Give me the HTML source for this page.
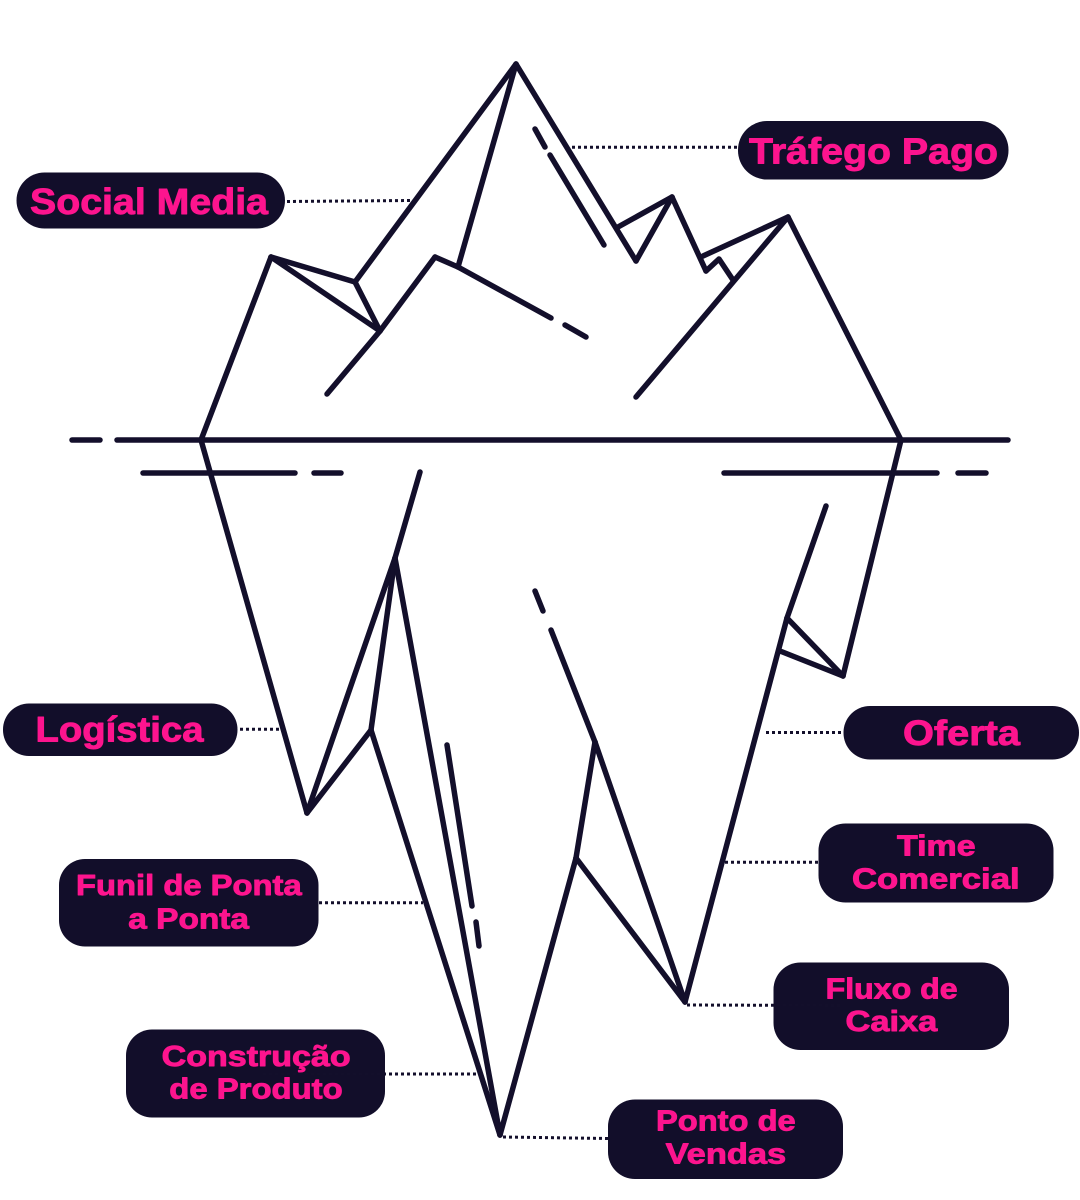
<!DOCTYPE html>
<html>
<head>
<meta charset="utf-8">
<style>
  html, body { margin: 0; padding: 0; background: #ffffff; }
  body { width: 1080px; height: 1200px; overflow: hidden; }
  svg { display: block; }
  .lbl { font-family: "Liberation Sans", Arial, sans-serif; font-weight: bold; fill: #fd148e; stroke: #fd148e; stroke-width: 0.9; stroke-linejoin: round; }
</style>
</head>
<body>
<svg width="1080" height="1200" viewBox="0 0 1080 1200" xmlns="http://www.w3.org/2000/svg">
  <rect width="1080" height="1200" fill="#ffffff"/>

  <!-- Iceberg strokes -->
  <g fill="none" stroke="#130f2b" stroke-width="5.5" stroke-linecap="round" stroke-linejoin="round">
    <!-- above water -->
    <line x1="516" y1="64" x2="355" y2="282"/>
    <line x1="516" y1="64" x2="458" y2="267"/>
    <line x1="271" y1="257" x2="355" y2="282"/>
    <line x1="271" y1="257" x2="380" y2="331"/>
    <line x1="355" y1="282" x2="380" y2="331"/>
    <line x1="380" y1="331" x2="435" y2="257"/>
    <line x1="380" y1="331" x2="327" y2="394"/>
    <polyline points="435,257 458,267 551,318"/>
    <line x1="565" y1="325" x2="586" y2="337"/>
    <line x1="271" y1="257" x2="201" y2="440"/>
    <line x1="516" y1="64" x2="636" y2="261"/>
    <line x1="618" y1="227" x2="672" y2="197"/>
    <line x1="672" y1="197" x2="636" y2="261"/>
    <line x1="672" y1="197" x2="706" y2="271"/>
    <line x1="703" y1="256" x2="788" y2="217"/>
    <polyline points="706,271 719,259 733,280"/>
    <line x1="788" y1="217" x2="636" y2="397"/>
    <line x1="788" y1="217" x2="901" y2="440"/>
    <line x1="535" y1="129" x2="545" y2="147"/>
    <line x1="550" y1="155" x2="604" y2="245"/>

    <!-- below water -->
    <line x1="201" y1="440" x2="307" y2="813"/>
    <line x1="901" y1="440" x2="843" y2="676"/>
    <polyline points="420,472 395,558 307,813"/>
    <line x1="395" y1="558" x2="371" y2="730"/>
    <line x1="371" y1="730" x2="307" y2="813"/>
    <line x1="395" y1="558" x2="500" y2="1135"/>
    <line x1="371" y1="730" x2="500" y2="1135"/>
    <line x1="447" y1="745" x2="472" y2="906"/>
    <line x1="476" y1="922" x2="479" y2="946"/>
    <line x1="535" y1="591" x2="543" y2="611"/>
    <line x1="551" y1="630" x2="595" y2="742"/>
    <line x1="595" y1="742" x2="576" y2="858"/>
    <line x1="595" y1="742" x2="685" y2="1002"/>
    <line x1="576" y1="858" x2="685" y2="1002"/>
    <line x1="576" y1="858" x2="500" y2="1135"/>
    <line x1="826" y1="506" x2="787" y2="618"/>
    <line x1="787" y1="618" x2="843" y2="676"/>
    <line x1="780" y1="651" x2="843" y2="676"/>
    <line x1="787" y1="618" x2="685" y2="1002"/>
  </g>

  <!-- Water lines -->
  <g stroke="#130f2b" stroke-width="5.5" stroke-linecap="round">
    <line x1="72" y1="440" x2="100" y2="440"/>
    <line x1="117" y1="440" x2="1008" y2="440"/>
    <line x1="143" y1="473" x2="295" y2="473"/>
    <line x1="314" y1="473" x2="341" y2="473"/>
    <line x1="724" y1="473" x2="937" y2="473"/>
    <line x1="958" y1="473" x2="986" y2="473"/>
  </g>

  <!-- Label boxes -->
  <g fill="#120e2a">
    <rect x="16.5" y="172.5" width="268.5" height="56" rx="28"/>
    <rect x="738" y="121" width="270.5" height="58.5" rx="29"/>
    <rect x="3" y="703.5" width="234.5" height="52.5" rx="26"/>
    <rect x="843.5" y="706" width="235.5" height="53.5" rx="26.5"/>
    <rect x="818.5" y="823.5" width="235" height="79" rx="27"/>
    <rect x="773.5" y="962.5" width="235.5" height="87.5" rx="27"/>
    <rect x="608" y="1099.5" width="235" height="79.5" rx="27"/>
    <rect x="59" y="859" width="259.5" height="87.5" rx="26"/>
    <rect x="126" y="1029.5" width="259" height="88" rx="26"/>
  </g>

  <!-- Dotted connectors -->
  <g stroke="#130f2b" stroke-width="3" stroke-dasharray="3 3" fill="none">
    <line x1="287" y1="201.5" x2="410" y2="200.5"/>
    <line x1="572" y1="147.3" x2="737" y2="147.3"/>
    <line x1="240" y1="729.3" x2="280" y2="729.3"/>
    <line x1="766" y1="732.5" x2="841" y2="732.5"/>
    <line x1="725" y1="862.3" x2="818" y2="862.3"/>
    <line x1="687" y1="1005" x2="840" y2="1005.5"/>
    <line x1="503" y1="1137" x2="608" y2="1138.5"/>
    <line x1="319" y1="902.7" x2="423" y2="902.7"/>
    <line x1="263" y1="1074" x2="480" y2="1074"/>
  </g>

  <!-- Label text -->
  <g class="lbl">
    <text x="30" y="214" font-size="36.5" textLength="238" lengthAdjust="spacingAndGlyphs">Social Media</text>
    <text x="749" y="163.3" font-size="36.5" textLength="249" lengthAdjust="spacingAndGlyphs">Tráfego Pago</text>
    <text x="35.5" y="741.7" font-size="35.5" textLength="168" lengthAdjust="spacingAndGlyphs">Logística</text>
    <text x="903" y="745" font-size="35" textLength="117" lengthAdjust="spacingAndGlyphs">Oferta</text>

    <text x="897" y="855.7" font-size="28.5" textLength="78.6" lengthAdjust="spacingAndGlyphs">Time</text>
    <text x="852" y="888.3" font-size="28.5" textLength="167.6" lengthAdjust="spacingAndGlyphs">Comercial</text>

    <text x="825.6" y="998.3" font-size="29" textLength="132" lengthAdjust="spacingAndGlyphs">Fluxo de</text>
    <text x="845.5" y="1031" font-size="29" textLength="91.8" lengthAdjust="spacingAndGlyphs">Caixa</text>

    <text x="656" y="1130.7" font-size="29" textLength="139.7" lengthAdjust="spacingAndGlyphs">Ponto de</text>
    <text x="665.6" y="1163.3" font-size="29" textLength="120.6" lengthAdjust="spacingAndGlyphs">Vendas</text>

    <text x="76" y="895" font-size="29" textLength="225.7" lengthAdjust="spacingAndGlyphs">Funil de Ponta</text>
    <text x="128.3" y="928.3" font-size="29" textLength="120.7" lengthAdjust="spacingAndGlyphs">a Ponta</text>

    <text x="161.7" y="1066" font-size="29" textLength="189" lengthAdjust="spacingAndGlyphs">Construção</text>
    <text x="169.3" y="1098.3" font-size="29" textLength="173.4" lengthAdjust="spacingAndGlyphs">de Produto</text>
  </g>
</svg>
</body>
</html>
